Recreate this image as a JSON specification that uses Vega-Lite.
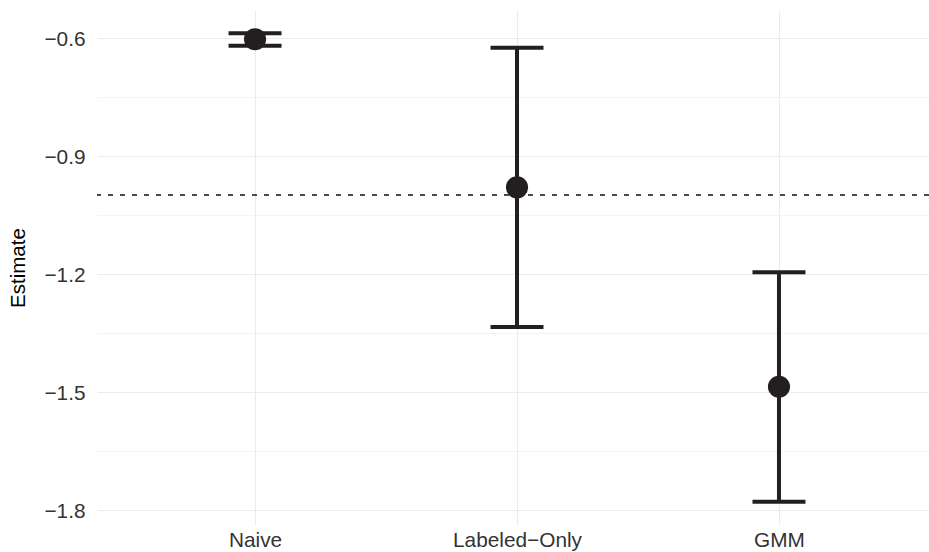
{
  "$schema": "https://vega.github.io/schema/vega-lite/v6.json",
  "width": 832,
  "height": 515,
  "autosize": {"type": "none"},
  "padding": {"left": 97, "top": 10, "right": 0, "bottom": 27},
  "background": "white",
  "config": {
    "view": {"stroke": null},
    "font": "Liberation Sans",
    "axis": {"domain": false, "ticks": false, "gridColor": "#ebebeb", "labelFont": "Liberation Sans", "titleFont": "Liberation Sans"}
  },
  "data": {
    "values": [
      {"method": "Naive", "estimate": -0.604, "lower": -0.6203, "upper": -0.5888},
      {"method": "Labeled\u2212Only", "estimate": -0.9804, "lower": -1.3356, "upper": -0.6254},
      {"method": "GMM", "estimate": -1.4874, "lower": -1.7797, "upper": -1.1965}
    ]
  },
  "encoding": {
    "x": {
      "field": "method",
      "type": "nominal",
      "sort": null,
      "scale": {"type": "point", "padding": 0.588, "align": 0.513},
      "axis": {"title": null, "grid": true, "gridWidth": 1.1, "labelFontSize": 20.8, "labelColor": "#333333", "labelPadding": 5, "labelAngle": 0}
    }
  },
  "layer": [
    {
      "mark": {"type": "rule", "strokeDash": [5, 7], "color": "#333333", "strokeWidth": 1.1},
      "encoding": {"x": null, "y": {"datum": -1.0, "type": "quantitative"}}
    },
    {
      "mark": {"type": "rule", "color": "#231f20", "strokeWidth": 4},
      "encoding": {
        "y": {
          "field": "lower",
          "type": "quantitative",
          "scale": {"domain": [-1.839, -0.5296], "nice": false, "zero": false},
          "axis": {
            "title": "Estimate",
            "titleFontSize": 20.5,
            "titleFontWeight": "normal",
            "titleColor": "#000000",
            "titlePadding": 15,
            "values": [-1.8, -1.65, -1.5, -1.35, -1.2, -1.05, -0.9, -0.75, -0.6],
            "format": ".1f",
            "labelExpr": "abs(datum.value*10 - round(datum.value*10)) < 0.01 ? datum.label : ''",
            "labelFontSize": 20.8,
            "labelColor": "#333333",
            "labelPadding": 12,
            "labelOffset": 2,
            "grid": true,
            "gridWidth": {"condition": {"test": "abs(datum.value*10 - round(datum.value*10)) < 0.01", "value": 1.1}, "value": 0.6}
          }
        },
        "y2": {"field": "upper"}
      }
    },
    {
      "mark": {"type": "tick", "color": "#231f20", "opacity": 1, "thickness": 4, "size": 53, "orient": "horizontal"},
      "encoding": {"y": {"field": "lower", "type": "quantitative"}}
    },
    {
      "mark": {"type": "tick", "color": "#231f20", "opacity": 1, "thickness": 4, "size": 53, "orient": "horizontal"},
      "encoding": {"y": {"field": "upper", "type": "quantitative"}}
    },
    {
      "mark": {"type": "circle", "color": "#231f20", "opacity": 1, "size": 490},
      "encoding": {"y": {"field": "estimate", "type": "quantitative"}}
    }
  ]
}
